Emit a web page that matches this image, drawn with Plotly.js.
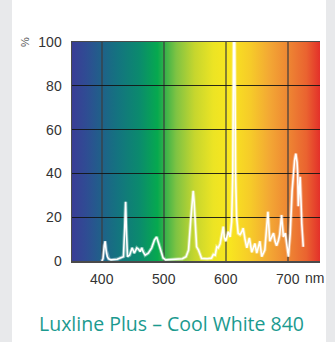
<!DOCTYPE html>
<html>
<head>
<meta charset="utf-8">
<script src="https://cdn.plot.ly/plotly-3.0.1.min.js"></script>
<style>
  html, body { margin:0; padding:0; }
  body { width:335px; height:342px; background:#e8e9eb; position:relative; overflow:hidden; }
  #panel { position:absolute; left:12px; top:0; width:314px; height:342px; background:#ffffff; }
  #spec { position:absolute; left:72px; top:42px; width:248px; height:219px; }
  #chart { position:absolute; left:0; top:0; width:335px; height:342px; }
</style>
</head>
<body>
<div id="panel"></div>
<div id="spec"></div>
<div id="chart"></div>
<script>
// Wavelength (nm) and relative spectral intensity (%)
const wavelength = [400,402,404,405.5,407,409,411,415,425,430,435,437,438.5,440,441.5,445,449,452.5,456.5,459,462,464.5,467,470,475,480.5,485,488.5,491,495.5,499,503,510,520,530,536,540,543.5,547.5,549,550.5,553,556,558,561,570,577,580,583,585.5,588,591,594,596,597.5,600,604,607,609.5,611.3,612.8,614.3,615.8,617.5,620,623,626,628,631,634,638,642,647,650,655,658,663,666,668,671,674,677,679.5,682,685,687,690,693,696,698,701,704,707,711,713,715,716,717,719,720,722.6,725];
const intensity  = [0,1,7,9,5,2,1,0.5,0.8,1.4,2,15,27,12,2,2.7,6,3.6,6,5.5,4.3,6,4,2.7,3.6,6,9.6,11,8.8,4.3,1.4,0.5,0.6,0.8,1,2,5,18.7,32,27,20,6.5,5,3,1.2,1,1.3,3,2.7,6.5,6,8,12,15.7,11,9,13.4,11,18,40,105,105,40,20,12.6,12,13.4,15,10,6,10.5,4,8,3.6,9,2,5,15,22.5,9,11,12.7,9,7,9.5,12,21,11,12.7,8,2,12.7,32,46,49,45,40,25,35.6,38.5,17,6.5];

const xTicks = [400,500,600,700];
const xTickLabels = ['400','500','600','700'];
const yTicks = [0,20,40,60,80,100];
const xRange = [352,752];
const yRange = [0,100];

// spectrum background colour stops (wavelength -> colour)
const bgStops = [[352,'#3a3d96'],[375,'#2f4c93'],[400,'#1f6189'],[425,'#147380'],[460,'#0b8a6e'],[490,'#06a94f'],[500,'#2fb04a'],[520,'#7ec343'],[550,'#c6d62e'],[580,'#ece424'],[605,'#f8e61f'],[640,'#f6cb29'],[670,'#f3a834'],[700,'#ee8733'],[730,'#ea6330'],[752,'#e3302a']];
document.getElementById('spec').style.background = 'linear-gradient(to right,' +
  bgStops.map(s => s[1] + ' ' + ((s[0]-xRange[0])/(xRange[1]-xRange[0])*100).toFixed(2) + '%').join(',') + ')';

const traces = [
  {x: wavelength, y: intensity, type:'scatter', mode:'lines',
   line:{color:'rgba(255,255,255,0.35)', width:3.5, shape:'linear'}, hoverinfo:'skip'},
  {x: wavelength, y: intensity, type:'scatter', mode:'lines',
   line:{color:'#ffffff', width:1.6, shape:'linear'}, hoverinfo:'skip'}
];

const font = {family:'Liberation Sans, Arial, sans-serif', size:14, color:'#333333'};

const layout = {
  width:335, height:342,
  margin:{l:72, r:15, t:42, b:81, pad:0},
  paper_bgcolor:'rgba(0,0,0,0)',
  plot_bgcolor:'rgba(0,0,0,0)',
  showlegend:false,
  font: font,
  xaxis:{range:xRange, tickvals:xTicks, ticktext:xTickLabels, showgrid:true,
         gridcolor:'rgba(60,60,60,0.6)', gridwidth:1.6, zeroline:false,
         showline:true, mirror:true, linecolor:'#4a4a4a', linewidth:1.5,
         ticks:'outside', ticklen:5, tickcolor:'rgba(0,0,0,0)', tickfont:font, fixedrange:true},
  yaxis:{range:yRange, tickvals:yTicks, showgrid:true,
         gridcolor:'rgba(20,20,20,0.9)', gridwidth:1.3, zeroline:false,
         showline:true, linecolor:'#4a4a4a', linewidth:1.5,
         ticks:'outside', ticklen:6, tickcolor:'rgba(0,0,0,0)', tickfont:font, fixedrange:true},
  annotations:[
    {text:'nm', xref:'x', yref:'paper', x:700, y:0, xanchor:'left', yanchor:'top',
     xshift:15, yshift:-7, showarrow:false, font:font},
    {text:'%', xref:'paper', yref:'paper', x:(25-72)/248, y:1, xanchor:'center', yanchor:'middle',
     textangle:-90, showarrow:false, font:{family:'Liberation Sans, Arial, sans-serif', size:11, color:'#555555'}},
    {text:'Luxline Plus – Cool White 840', xref:'paper', yref:'paper', x:(171-72)/248, y:(261-323)/219,
     xanchor:'center', yanchor:'middle', showarrow:false,
     font:{family:'Open Sans, Noto Sans, sans-serif', size:19.5, weight:500, color:'#1b9a8f'}}
  ]
};

Plotly.newPlot('chart', traces, layout, {staticPlot:true, displayModeBar:false});
</script>
</body>
</html>
